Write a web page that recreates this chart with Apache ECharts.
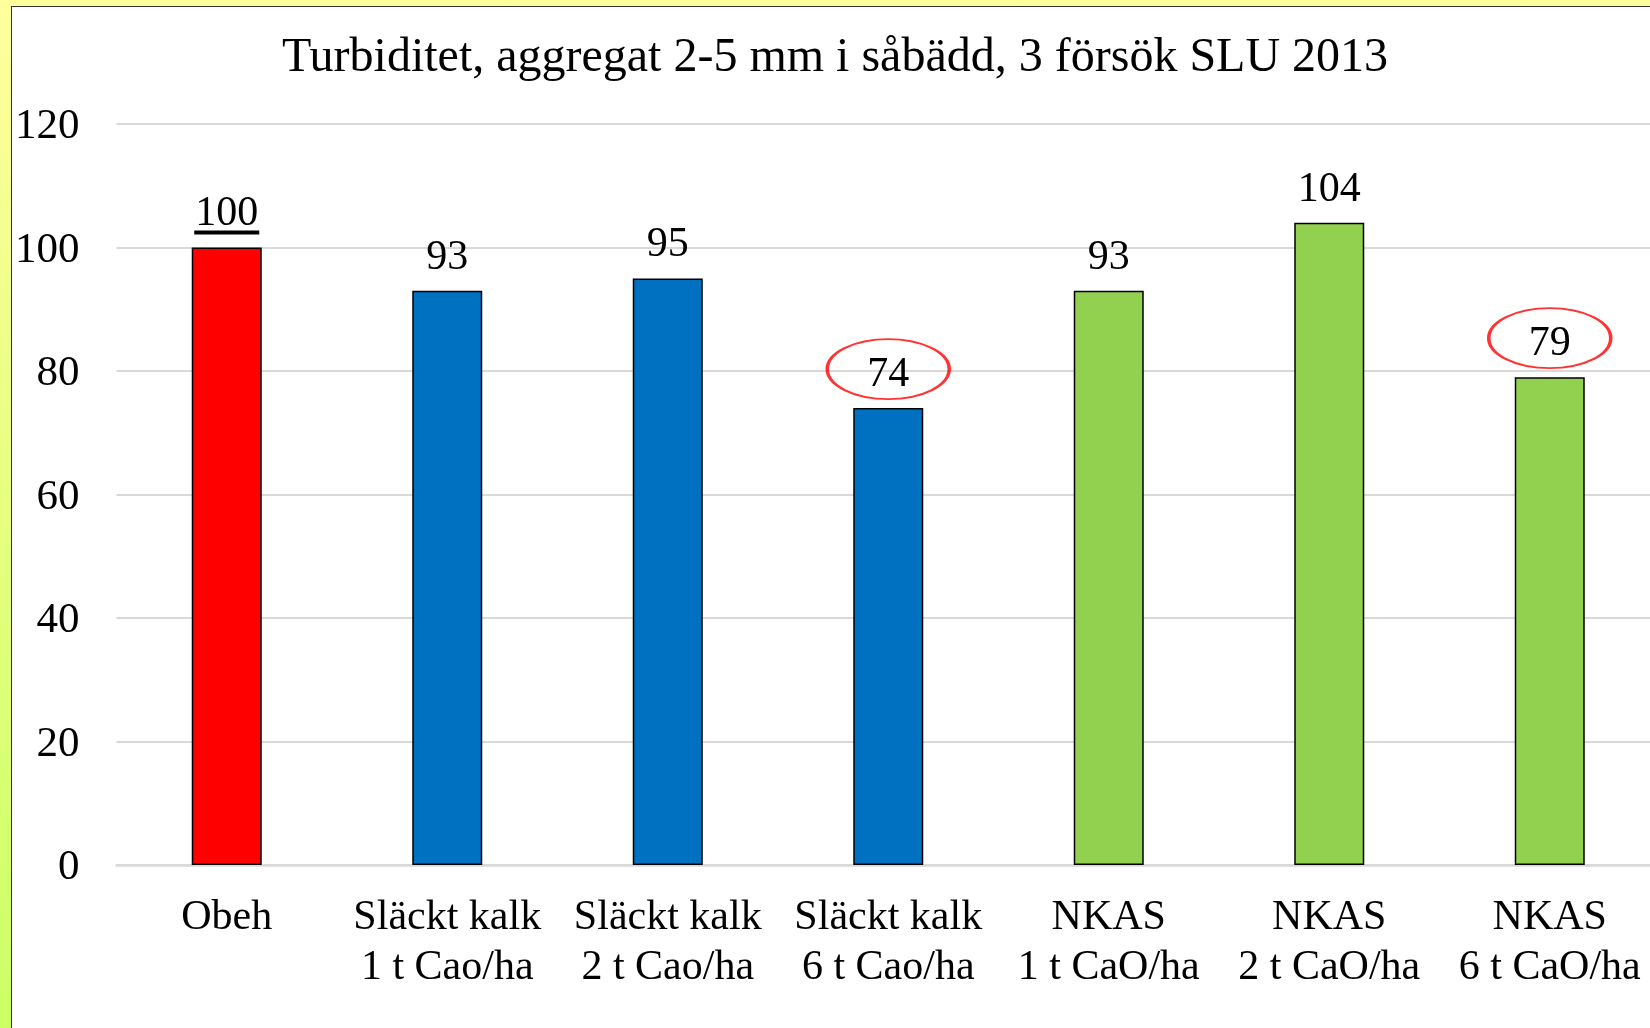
<!DOCTYPE html>
<html>
<head>
<meta charset="utf-8">
<script src="https://cdn.jsdelivr.net/npm/echarts@6/dist/echarts.min.js"></script>
<style>
html,body{margin:0;padding:0;width:1650px;height:1028px;overflow:hidden;}
body{background:linear-gradient(to bottom,#ffff9c 0%,#e6ff80 50%,#ccff66 100%);position:relative;}
#frame{position:absolute;left:11px;top:6px;width:1700px;height:1100px;background:#fff;border:1px solid #333;}
#chart{position:absolute;left:0;top:0;width:1700px;height:1100px;}
</style>
</head>
<body>
<div id="frame"><div id="chart"></div></div>
<script>
const titleText = 'Turbiditet, aggregat 2-5 mm i såbädd, 3 försök SLU 2013';
const categories = ['Obeh', 'Släckt kalk\n1 t Cao/ha', 'Släckt kalk\n2 t Cao/ha', 'Släckt kalk\n6 t Cao/ha',
  'NKAS\n1 t CaO/ha', 'NKAS\n2 t CaO/ha', 'NKAS\n6 t CaO/ha'];
const values = [100, 93, 95, 74, 93, 104, 79];
const barColors = ['#ff0000', '#0070c0', '#0070c0', '#0070c0', '#92d050', '#92d050', '#92d050'];
const circled = [false, false, false, true, false, false, true];
const underlined = [true, false, false, false, false, false, false];
const yTicks = { min: 0, max: 120, interval: 20 };

const FONT = '"Liberation Serif","Times New Roman",serif';
const chart = echarts.init(document.getElementById('chart'));
chart.setOption({
  animation: false,
  title: {
    text: titleText, left: 818, top: 22, textAlign: 'center',
    textStyle: { fontFamily: FONT, fontSize: 48, fontWeight: 'normal', color: '#000' }
  },
  grid: { left: 103, top: 117, width: 1545, height: 741, containLabel: false },
  xAxis: {
    type: 'category', data: categories,
    axisLine: { show: true, lineStyle: { color: '#d9d9d9', width: 2.5 } },
    axisTick: { show: false },
    axisLabel: { fontFamily: FONT, fontSize: 42, color: '#000', lineHeight: 50, margin: 28, interval: 0 }
  },
  yAxis: {
    type: 'value', min: yTicks.min, max: yTicks.max, interval: yTicks.interval,
    axisLine: { show: false }, axisTick: { show: false },
    splitLine: { lineStyle: { color: '#d9d9d9', width: 2 } },
    axisLabel: {
      fontFamily: FONT, fontSize: 43, color: '#000', margin: 37,
      formatter: '{v|{value}}',
      rich: { v: { fontFamily: FONT, fontSize: 43, color: '#000', padding: [6, 0, 0, 0] } }
    }
  },
  series: [{
    type: 'bar', barWidth: 70,
    data: values.map((v, i) => ({
      value: v,
      itemStyle: { color: barColors[i], borderColor: '#000', borderWidth: 1.5 },
      label: underlined[i] ? { formatter: '{a|{c}}\n{u| }', distance: 13 } : {}
    })),
    label: {
      show: true, position: 'top', distance: 16, formatter: '{a|{c}}',
      rich: {
        a: { fontFamily: FONT, fontSize: 42, color: '#000', lineHeight: 34 },
        u: { width: 65, height: 4, lineHeight: 4, fontSize: 1, backgroundColor: '#000' }
      }
    }
  }, {
    type: 'scatter', symbol: 'circle', symbolSize: [122, 60], symbolOffset: [0, -39],
    data: values.map((v, i) => circled[i] ? v : '-'),
    itemStyle: { color: 'rgba(0,0,0,0)', borderColor: '#ff0000', borderWidth: 2.5 },
    silent: true, z: 5
  }]
});
</script>
</body>
</html>
